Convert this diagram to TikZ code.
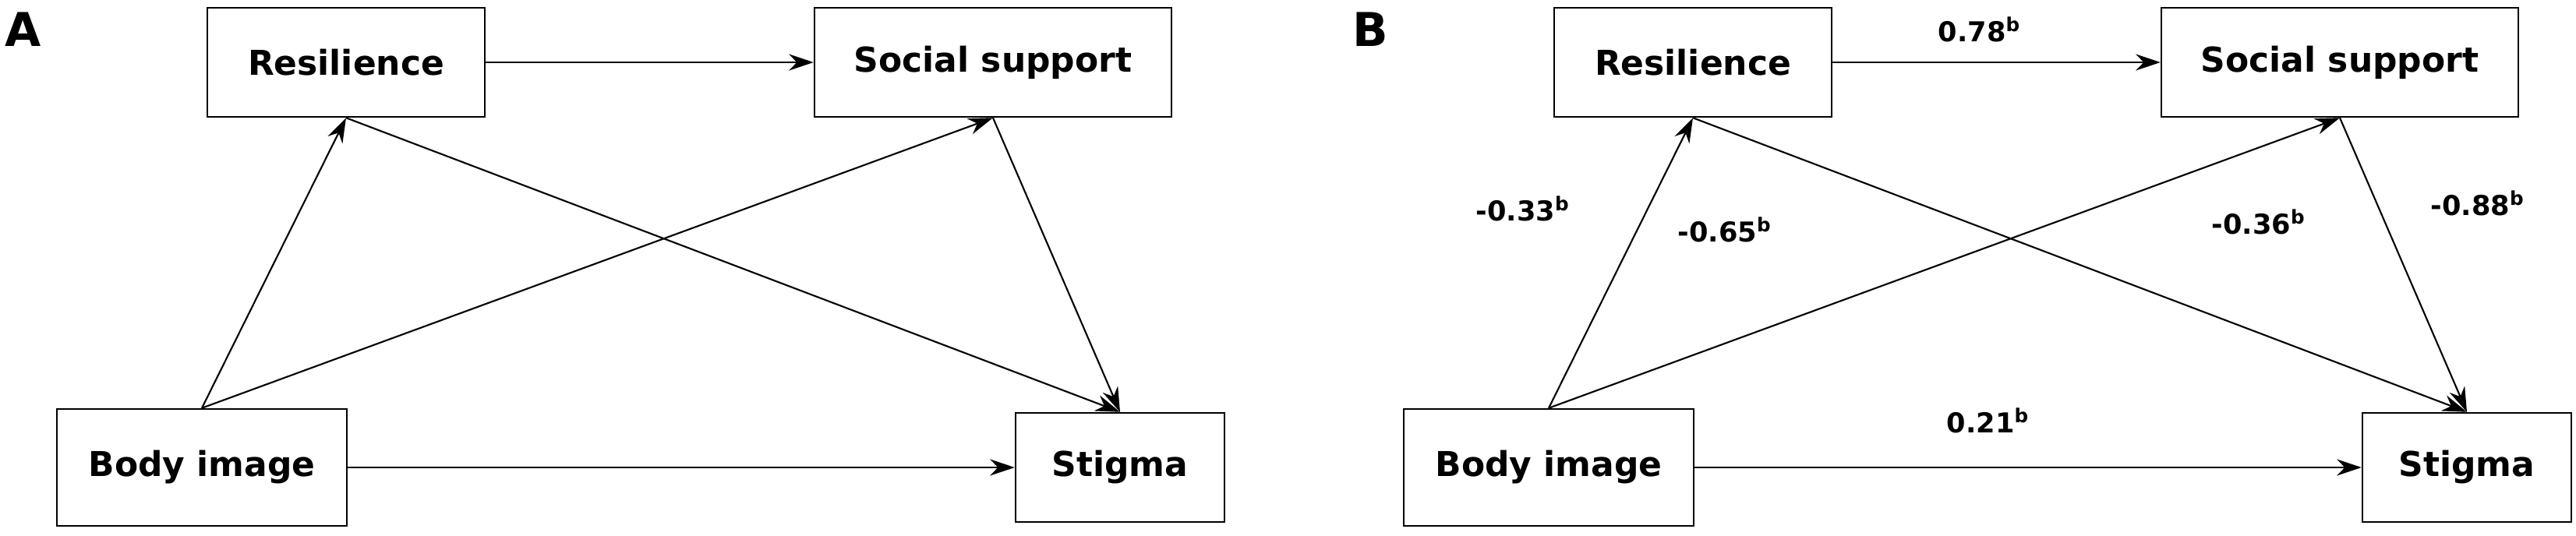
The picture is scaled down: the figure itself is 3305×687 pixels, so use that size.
\documentclass[tikz,border=0pt]{standalone}
\usepackage{fontspec}
\setmainfont{DejaVu Sans}
\usetikzlibrary{arrows.meta}
\begin{document}
\begin{tikzpicture}[x=0.01cm,y=-0.01cm,
 box/.style={draw,line width=0.7pt,inner sep=0pt,font=\bfseries\fontsize{12.5}{15}\selectfont},
 arr/.style={line width=0.6pt,-{Stealth[length=9pt,width=6pt]}},
 lab/.style={font=\bfseries\fontsize{10}{12}\selectfont},
 pl/.style={font=\bfseries\fontsize{17}{19}\selectfont}]
\useasboundingbox (0,0) rectangle (3305,687);
\foreach \o/\p in {0/A,1728/B}{
\begin{scope}[xshift=\o*0.01cm]
 \node[pl] (p\p) at (30,38) {\p};
 \node[box,minimum width=356*0.01cm,minimum height=140*0.01cm] (res\p) at (444,80) {Resilience};
 \node[box,minimum width=458*0.01cm,minimum height=140*0.01cm] (ss\p) at (1274,80) {Social support};
 \node[box,minimum width=372*0.01cm,minimum height=150*0.01cm] (bi\p) at (259,600) {Body image};
 \node[box,minimum width=268*0.01cm,minimum height=140*0.01cm] (st\p) at (1437,600) {Stigma};
 \draw[arr] (res\p.east) -- (ss\p.west);
 \draw[arr] (bi\p.north) -- (res\p.south);
 \draw[arr] (bi\p.north) -- (ss\p.south);
 \draw[arr] (res\p.south) -- (st\p.north);
 \draw[arr] (ss\p.south) -- (st\p.north);
 \draw[arr] (bi\p.east) -- (st\p.west);
\end{scope}}
\node[lab] (l1) at (2540,38) {0.78$^{\mathbf{b}}$};
\node[lab] (l2) at (1954,268) {-0.33$^{\mathbf{b}}$};
\node[lab] (l3) at (2213,295) {-0.65$^{\mathbf{b}}$};
\node[lab] (l4) at (2898,285) {-0.36$^{\mathbf{b}}$};
\node[lab] (l5) at (3179,261) {-0.88$^{\mathbf{b}}$};
\node[lab] (l6) at (2551,540) {0.21$^{\mathbf{b}}$};
\end{tikzpicture}
\end{document}
